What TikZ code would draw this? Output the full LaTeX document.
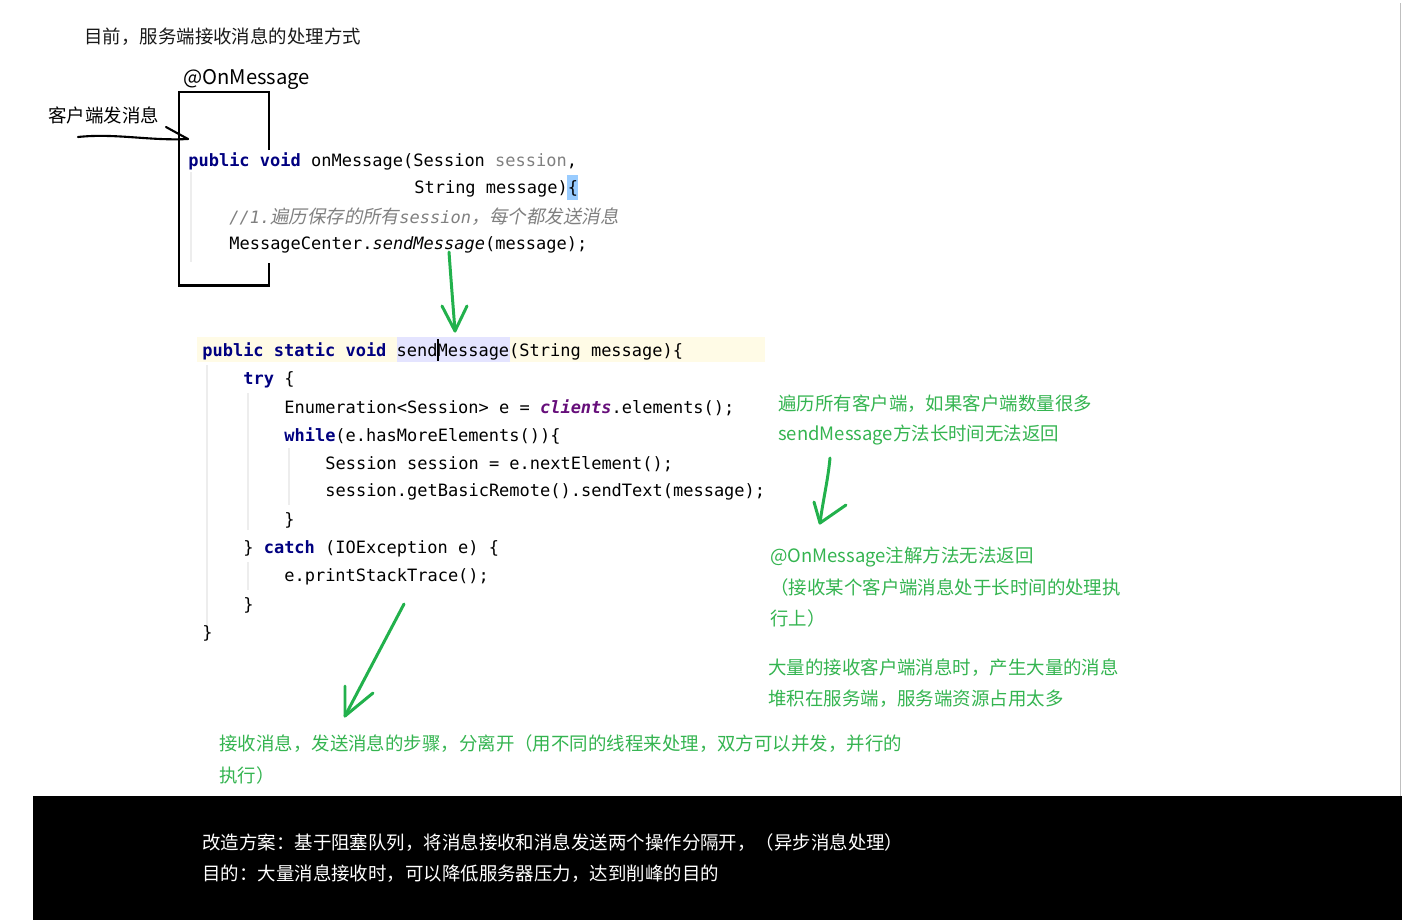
\documentclass[tikz,border=0pt]{standalone}
\usepackage{fontspec}
\setmainfont{Noto Sans CJK SC}
\newfontfamily\cjkslant{Noto Sans CJK SC}[FakeSlant=0.2]
\newfontfamily\codefont{DejaVu Sans Mono}
\usetikzlibrary{positioning}
\definecolor{kwnavy}{RGB}{0,0,128}
\definecolor{paramgray}{RGB}{128,128,128}
\definecolor{fieldpurple}{RGB}{102,14,122}
\definecolor{notegreen}{RGB}{52,180,80}
\definecolor{penGreen}{RGB}{34,177,76}
\definecolor{lineyellow}{RGB}{255,251,230}
\definecolor{wordblue}{RGB}{228,228,255}
\definecolor{bracebl}{RGB}{153,204,255}
\newcommand{\codekw}[1]{{\color{kwnavy}\bfseries #1}}
\newcommand{\cmtcjk}[1]{{\cjkslant\fontsize{10.5}{12}\selectfont #1}}

\begin{document}
\begin{tikzpicture}[x=0.02cm,y=-0.02cm,
  cntext/.style={anchor=west,inner sep=0pt,font=\fontsize{10.5}{13}\selectfont},
  note/.style={cntext,text=notegreen},
  codeline/.style={anchor=west,inner sep=0pt,yshift=-1.1pt,font=\codefont\fontsize{9.67}{12}\selectfont},
  guide/.style={gray!14,line width=0.6pt},
  pen/.style={penGreen,line width=1.7pt,line cap=round,line join=round}]
\useasboundingbox (0,0) rectangle (1402,920);
% screen edges
\fill[black] (33,796) rectangle (1402,920);
\draw[gray!50,line width=0.9pt] (1400.5,3) -- (1400.5,796);

% heading
\node[cntext,text=black!90] (title) at (84,37) {目前，服务端接收消息的处理方式};
\node[cntext,font=\fontsize{11.5}{13}\selectfont] (anno) at (183,79) {@OnMessage};
\node[cntext] (client) at (48,115) {客户端发消息};

% bracket round onMessage
\draw[line width=1.7pt] (269,150) -- (269,92) -- (179,92) -- (179,285) -- (269,285) -- (269,263);

% onMessage code
\fill[bracebl] (567,175) rectangle (578,200);
\draw[guide] (191,172) -- (191,262);
\node[codeline] (on1) at (188,159) {\codekw{public} \codekw{void} onMessage(Session {\color{paramgray}session},};
\node[codeline] (on2) at (414,187) {String message)\{};
\node[codeline,text=paramgray] (on3) at (229,215) {{\itshape //1.}\cmtcjk{遍历保存的所有}{\itshape session}\cmtcjk{，每个都发送消息}};
\node[codeline] (on4) at (229,243) {MessageCenter.{\itshape sendMessage}(message);};

% hand drawn arrow from client
\coordinate (cl0) at (78,137);
\coordinate (cl1) at (188,139);
\coordinate (clh) at (166,127);
\draw[line width=1.2pt,line cap=round] (cl0) .. controls (115,133) and (150,141) .. (cl1);
\draw[line width=1.2pt,line cap=round] (clh) -- (cl1);

% sendMessage code
\fill[lineyellow] (197,337) rectangle (765,362);
\fill[wordblue] (397,337) rectangle (510,362);
\draw[black,line width=0.7pt] (438,339) -- (438,361);
\draw[guide] (207,365) -- (207,640);
\draw[guide] (248,393) -- (248,530);
\draw[guide] (289,448) -- (289,505);
\draw[guide] (248,562) -- (248,590);
\node[codeline] (s1) at (202,349) {\codekw{public} \codekw{static} \codekw{void} sendMessage(String message)\{};
\node[codeline] (s2) at (243,378) {\codekw{try} \{};
\node[codeline] (s3) at (284,406) {Enumeration<Session> e = {\color{fieldpurple}\bfseries\itshape clients}.elements();};
\node[codeline] (s4) at (284,434) {\codekw{while}(e.hasMoreElements())\{};
\node[codeline] (s5) at (325,462) {Session session = e.nextElement();};
\node[codeline] (s6) at (325,490) {session.getBasicRemote().sendText(message);};
\node[codeline] (s7) at (284,518) {\}};
\node[codeline] (s8) at (243,547) {\} \codekw{catch} (IOException e) \{};
\node[codeline] (s9) at (284,575) {e.printStackTrace();};
\node[codeline] (s10) at (243,603) {\}};
\node[codeline] (s11) at (202,631) {\}};

% green notes
\node[note] (n1) at (778,404) {遍历所有客户端，如果客户端数量很多};
\node[note] (n2) at (778,435) {sendMessage方法长时间无法返回};
\node[note] (n3) at (770,557) {@OnMessage注解方法无法返回};
\node[note] (n4) at (770,587) {（接收某个客户端消息处于长时间的处理执};
\node[note] (n5) at (770,618) {行上）};
\node[note] (n6) at (768,668) {大量的接收客户端消息时，产生大量的消息};
\node[note] (n7) at (768,699) {堆积在服务端，服务端资源占用太多};
\node[note] (n8) at (219,744) {接收消息，发送消息的步骤，分离开（用不同的线程来处理，双方可以并发，并行的};
\node[note] (n9) at (219,775) {执行）};

% green pen arrows
\coordinate (a1s) at (449,252);
\coordinate (a1e) at (455,331);
\draw[pen] (a1s) .. controls (451,280) and (453,305) .. (a1e);
\draw[pen] (442,306) -- (a1e) -- (467,306);
\coordinate (a2s) at (830,458);
\coordinate (a2e) at (820,523);
\draw[pen] (a2s) .. controls (828,480) and (823,500) .. (a2e);
\draw[pen] (814,502) -- (a2e) -- (846,505);
\coordinate (a3s) at (404,604);
\coordinate (a3e) at (345,716);
\draw[pen] (a3s) -- (a3e);
\draw[pen] (345,686) -- (a3e) -- (373,693);

% bottom plan
\node[cntext,text=white] (plan) at (202,843) {改造方案：基于阻塞队列，将消息接收和消息发送两个操作分隔开，（异步消息处理）};
\node[cntext,text=white] (goal) at (202,874) {目的：大量消息接收时，可以降低服务器压力，达到削峰的目的};
\end{tikzpicture}
\end{document}
